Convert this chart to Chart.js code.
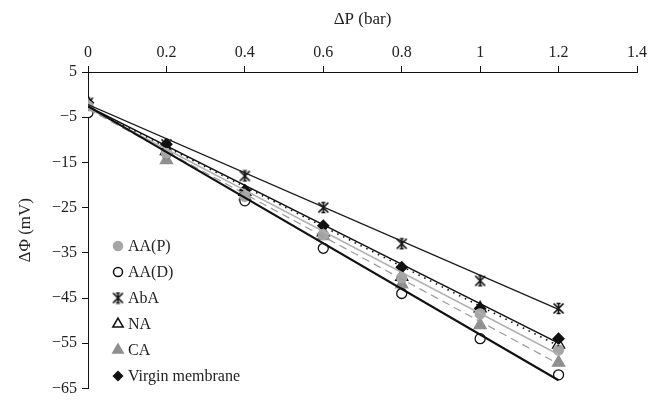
<!DOCTYPE html>
<html>
<head>
<meta charset="utf-8">
<script src="https://cdn.jsdelivr.net/npm/chart.js@4/dist/chart.umd.min.js"></script>
<style>
  html, body { margin: 0; padding: 0; background: #fff; }
  #wrap { width: 665px; height: 403px; position: relative; }
</style>
</head>
<body>
<div id="wrap"><canvas id="chart" width="665" height="403"></canvas></div>
<script>
// pressure steps (bar)
const pressure = [0, 0.2, 0.4, 0.6, 0.8, 1.0, 1.2];

// streaming potential readings (mV)
const aaP    = [-2.5, -13, -22.5, -31, -40.5, -48.5, -56.5];
const aaD    = [-4, -13, -23.5, -34, -44, -54, -62];
const abA    = [-1.8, -11, -18, -25, -33, -41.2, -47.3];
const na     = [-2.5, -12.5, -21.5, -30.5, -40.3, -47.3, -55.3];
const ca     = [-2.5, -14.5, -22.5, -31.3, -42, -51, -59.3];
const virgin = [-1.8, -11, -21.2, -29, -38.2, -47.3, -54];

// trend lines: value at x = 0 and at x = 1.2
const trendX      = [0, 1.2];
const trendAbA    = [-2.2, -47.5];
const trendVirgin = [-2.6, -55];
const trendNA     = [-2.8, -55.6];
const trendAaP    = [-3.0, -57.5];
const trendCA     = [-3.2, -59.6];
const trendAaD    = [-2.6, -63.2];

const xTicks = [0, 0.2, 0.4, 0.6, 0.8, 1, 1.2, 1.4];

const FONT = '"Liberation Serif", "DejaVu Serif", serif';

function pts(ys) { return ys.map((y, i) => ({ x: pressure[i], y: y })); }
function line(ys) { return ys.map((y, i) => ({ x: trendX[i], y: y })); }

// asterisk marker: X + vertical stroke with short caps
function makeStar(size) {
    const c = document.createElement('canvas');
    c.width = size; c.height = size;
    const g = c.getContext('2d');
    const a = 1.5, b = size - 1.5, m = size / 2;
    g.strokeStyle = '#111';
    g.lineWidth = 1.7;
    g.beginPath();
    g.moveTo(a, a); g.lineTo(b, b);
    g.moveTo(b, a); g.lineTo(a, b);
    g.moveTo(m, a); g.lineTo(m, b);
    g.moveTo(m - 2, a); g.lineTo(m + 2, a);
    g.moveTo(m - 2, b); g.lineTo(m + 2, b);
    g.stroke();
    return c;
}
const starImg = makeStar(13);

function trend(ys, color, width, dash) {
    return {
        type: 'line', data: line(ys), showLine: true, pointRadius: 0,
        borderColor: color, borderWidth: width, borderDash: dash || [],
        fill: false, tension: 0
    };
}
function marks(label, ys, style, bg, border, radius) {
    return {
        label: label, data: pts(ys), showLine: false,
        pointStyle: style, pointRadius: radius, pointHoverRadius: radius,
        backgroundColor: bg, borderColor: border, pointBorderWidth: 1.3
    };
}

const markerSets = [
    marks('AA(P)', aaP, 'circle', '#a6a6a6', '#a6a6a6', 5),
    marks('AA(D)', aaD, 'circle', '#fff', '#111', 5),
    marks('CA', ca, 'triangle', '#8f8f8f', '#8f8f8f', 7),
    marks('NA', na, 'triangle', 'rgba(255,255,255,0)', '#111', 7),
    marks('AbA', abA, starImg, '#111', '#111', 6),
    marks('Virgin membrane', virgin, 'rectRot', '#111', '#111', 5.5)
];

const legendOrder = ['AA(P)', 'AA(D)', 'AbA', 'NA', 'CA', 'Virgin membrane'];

// legend drawn inside the plot area, lower left
const innerLegend = {
    id: 'innerLegend',
    afterDraw(chart) {
        const ctx = chart.ctx;
        const x0 = 118, y0 = 246, step = 26;
        ctx.save();
        ctx.font = '16px ' + FONT;
        ctx.textBaseline = 'middle';
        legendOrder.forEach((name, i) => {
            const ds = markerSets.find(d => d.label === name);
            const y = y0 + i * step;
            const r = ds.pointStyle === 'triangle' ? 6 : 4.5;
            ctx.fillStyle = ds.backgroundColor;
            ctx.strokeStyle = ds.borderColor;
            ctx.lineWidth = 1.5;
            Chart.helpers.drawPoint(ctx, {
                pointStyle: ds.pointStyle, radius: r, borderWidth: 1.5, rotation: 0
            }, x0, y);
            ctx.fillStyle = '#222';
            ctx.fillText(name, x0 + 10, y + 1);
        });
        ctx.restore();
    }
};

new Chart(document.getElementById('chart'), {
    type: 'scatter',
    data: {
        datasets: [
            trend(trendAbA, '#1a1a1a', 1.3),
            trend(trendAaD, '#111', 2.2),
            trend(trendCA, '#9a9a9a', 1.2, [8, 5]),
            trend(trendAaP, '#b0b0b0', 1.5),
            trend(trendNA, '#111', 1.6, [1.5, 5]),
            trend(trendVirgin, '#111', 1.5)
        ].concat(markerSets)
    },
    options: {
        responsive: false,
        animation: false,
        layout: { padding: { right: 28, bottom: 10, left: 0, top: 0 } },
        plugins: {
            legend: { display: false },
            tooltip: { enabled: false }
        },
        scales: {
            x: {
                type: 'linear', position: 'top',
                min: 0, max: 1.4,
                afterBuildTicks(scale) { scale.ticks = xTicks.map(v => ({ value: v })); },
                afterFit(scale) { scale.height = 72; },
                grid: { drawOnChartArea: false, drawTicks: true, tickLength: 6, color: '#111' },
                border: { color: '#111', width: 1 },
                ticks: {
                    color: '#222', font: { family: FONT, size: 16 }, padding: 4,
                    callback: v => String(Math.round(v * 10) / 10)
                },
                title: {
                    display: true, text: 'ΔP (bar)', color: '#222',
                    font: { family: FONT, size: 17 }, padding: { top: 9, bottom: 0 }
                }
            },
            y: {
                type: 'linear',
                min: -65, max: 5,
                ticks: {
                    stepSize: 10, color: '#222', font: { family: FONT, size: 16 }, padding: 5,
                    callback: v => (v < 0 ? '\u2212' + Math.abs(v) : String(v))
                },
                afterFit(scale) { scale.width = 88; },
                grid: { drawOnChartArea: false, drawTicks: true, tickLength: 6, color: '#111' },
                border: { color: '#111', width: 1 },
                title: {
                    display: true, text: 'ΔΦ (mV)', color: '#222',
                    font: { family: FONT, size: 17 }, padding: { top: 15, bottom: 0 }
                }
            }
        }
    },
    plugins: [innerLegend]
});
</script>
</body>
</html>
